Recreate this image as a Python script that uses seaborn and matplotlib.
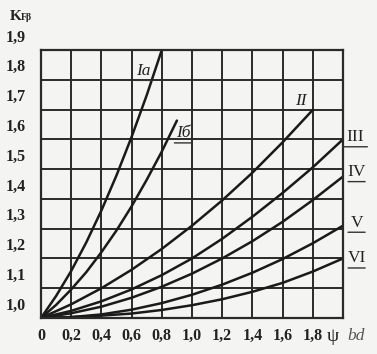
import matplotlib
matplotlib.use("Agg")
import matplotlib.pyplot as plt
import seaborn as sns
import pandas as pd
from matplotlib.transforms import blended_transform_factory, offset_copy

# ---- data ----
psi_fine = [0.0, 0.1, 0.2, 0.3, 0.4, 0.5, 0.6, 0.7, 0.8, 0.9]
k_Ia = [1.000, 1.074, 1.158, 1.254, 1.361, 1.479, 1.608, 1.748, 1.900]
k_Ib = [1.000, 1.044, 1.096, 1.154, 1.221, 1.294, 1.375, 1.464, 1.559, 1.663]

psi = [0.0, 0.2, 0.4, 0.6, 0.8, 1.0, 1.2, 1.4, 1.6, 1.8, 2.0]
k_II = [1.000, 1.046, 1.100, 1.162, 1.232, 1.310, 1.395, 1.488, 1.590, 1.699]
k_III = [1.000, 1.024, 1.056, 1.096, 1.144, 1.200, 1.266, 1.340, 1.420, 1.506, 1.600]
k_IV = [1.000, 1.016, 1.038, 1.068, 1.105, 1.149, 1.200, 1.258, 1.323, 1.396, 1.475]
k_V = [1.000, 1.003, 1.012, 1.028, 1.050, 1.078, 1.112, 1.152, 1.198, 1.251, 1.310]
k_VI = [1.000, 1.003, 1.008, 1.015, 1.027, 1.043, 1.063, 1.088, 1.118, 1.156, 1.200]

curve_names = ["Ia", "Iб", "II", "III", "IV", "V", "VI"]

x_ticks = [0.0, 0.2, 0.4, 0.6, 0.8, 1.0, 1.2, 1.4, 1.6, 1.8]
x_tick_labels = ["0", "0,2", "0,4", "0,6", "0,8", "1,0", "1,2", "1,4", "1,6", "1,8"]
y_ticks = [1.0, 1.1, 1.2, 1.3, 1.4, 1.5, 1.6, 1.7, 1.8, 1.9]
y_tick_labels = ["1,0", "1,1", "1,2", "1,3", "1,4", "1,5", "1,6", "1,7", "1,8", "1,9"]

# ---- build long table ----
series = [
    ("Ia", psi_fine, k_Ia),
    ("Iб", psi_fine, k_Ib),
    ("II", psi, k_II),
    ("III", psi, k_III),
    ("IV", psi, k_IV),
    ("V", psi, k_V),
    ("VI", psi, k_VI),
]
rows = []
for name, xs, ys in series:
    for xv, yv in zip(xs, ys):
        rows.append({"curve": name, "psi": xv, "K": yv})
df = pd.DataFrame(rows)

sns.set_theme(style="white")
plt.rcParams["font.family"] = ["Liberation Serif", "DejaVu Serif"]

bg = "#f4f4f2"
fig = plt.figure(figsize=(3.77, 3.54), dpi=100, facecolor=bg)
ax = fig.add_axes([41 / 377, 1 - 318 / 354, 302 / 377, 268 / 354])
ax.set_facecolor(bg)

sns.lineplot(data=df, x="psi", y="K", units="curve", estimator=None,
             color="#1a1a1a", linewidth=1.8, ax=ax, legend=False, sort=False)

ax.set_xlim(0, 2.0)
ax.set_ylim(1.0, 1.9)
ax.set_xticks([0.0, 0.2, 0.4, 0.6, 0.8, 1.0, 1.2, 1.4, 1.6, 1.8, 2.0])
ax.set_yticks(y_ticks)
ax.grid(True, color="#2a2a2a", linewidth=1.4)
ax.set_axisbelow(True)
for sp in ax.spines.values():
    sp.set_color("#2a2a2a")
    sp.set_linewidth(1.6)
ax.tick_params(length=0, labelbottom=False, labelleft=False)
ax.set_xlabel("")
ax.set_ylabel("")

tfont = dict(fontsize=11.5, fontweight="bold", color="#222222")

# y tick labels, slightly above their lines
ytr = offset_copy(blended_transform_factory(ax.transAxes, ax.transData),
                  fig=fig, x=-11, y=9, units="points")
for yv, lab in zip(y_ticks, y_tick_labels):
    ax.text(0, yv, lab, transform=ytr, ha="right", va="center", **tfont)

# x tick labels
xtr = offset_copy(blended_transform_factory(ax.transData, ax.transAxes),
                  fig=fig, x=0, y=-13, units="points")
for xv, lab in zip(x_ticks, x_tick_labels):
    ax.text(xv, 0, lab, transform=xtr, ha="center", va="center", **tfont)

ax.text(1.93, 0, "ψ", transform=xtr, ha="center", va="center",
        fontsize=14, color="#222222")
ax.text(2.09, 0, "bd", transform=xtr, ha="center", va="center",
        fontsize=12.5, style="italic", color="#555555")

fig.text(16 / 377, 1 - 16 / 354, "K", ha="center", va="center", fontsize=11,
         fontweight="bold", color="#222222")
fig.text(26 / 377, 1 - 18 / 354, "Fβ", ha="center", va="center", fontsize=7,
         fontweight="bold", color="#222222")

# curve labels
label_pos = {
    "Ia": (0.68, 1.83),
    "Iб": (0.94, 1.62),
    "II": (1.72, 1.73),
    "III": (2.08, 1.607),
    "IV": (2.09, 1.49),
    "V": (2.09, 1.32),
    "VI": (2.09, 1.20),
}
for name in curve_names:
    xv, yv = label_pos[name]
    italic = name in ("Ia", "Iб", "II")
    ax.text(xv, yv, name, ha="center", va="center", fontsize=12.5,
            style="italic" if italic else "normal", color="#222222",
            clip_on=False)
    half = 0.075 if len(name) < 3 else 0.1
    off = 0.032
    ax.annotate("", xy=(xv - half, yv - off), xytext=(xv + half, yv - off),
                arrowprops=dict(arrowstyle="-", color="#333333", lw=1.0),
                annotation_clip=False)

fig.savefig("out.png", dpi=100, facecolor=bg)
